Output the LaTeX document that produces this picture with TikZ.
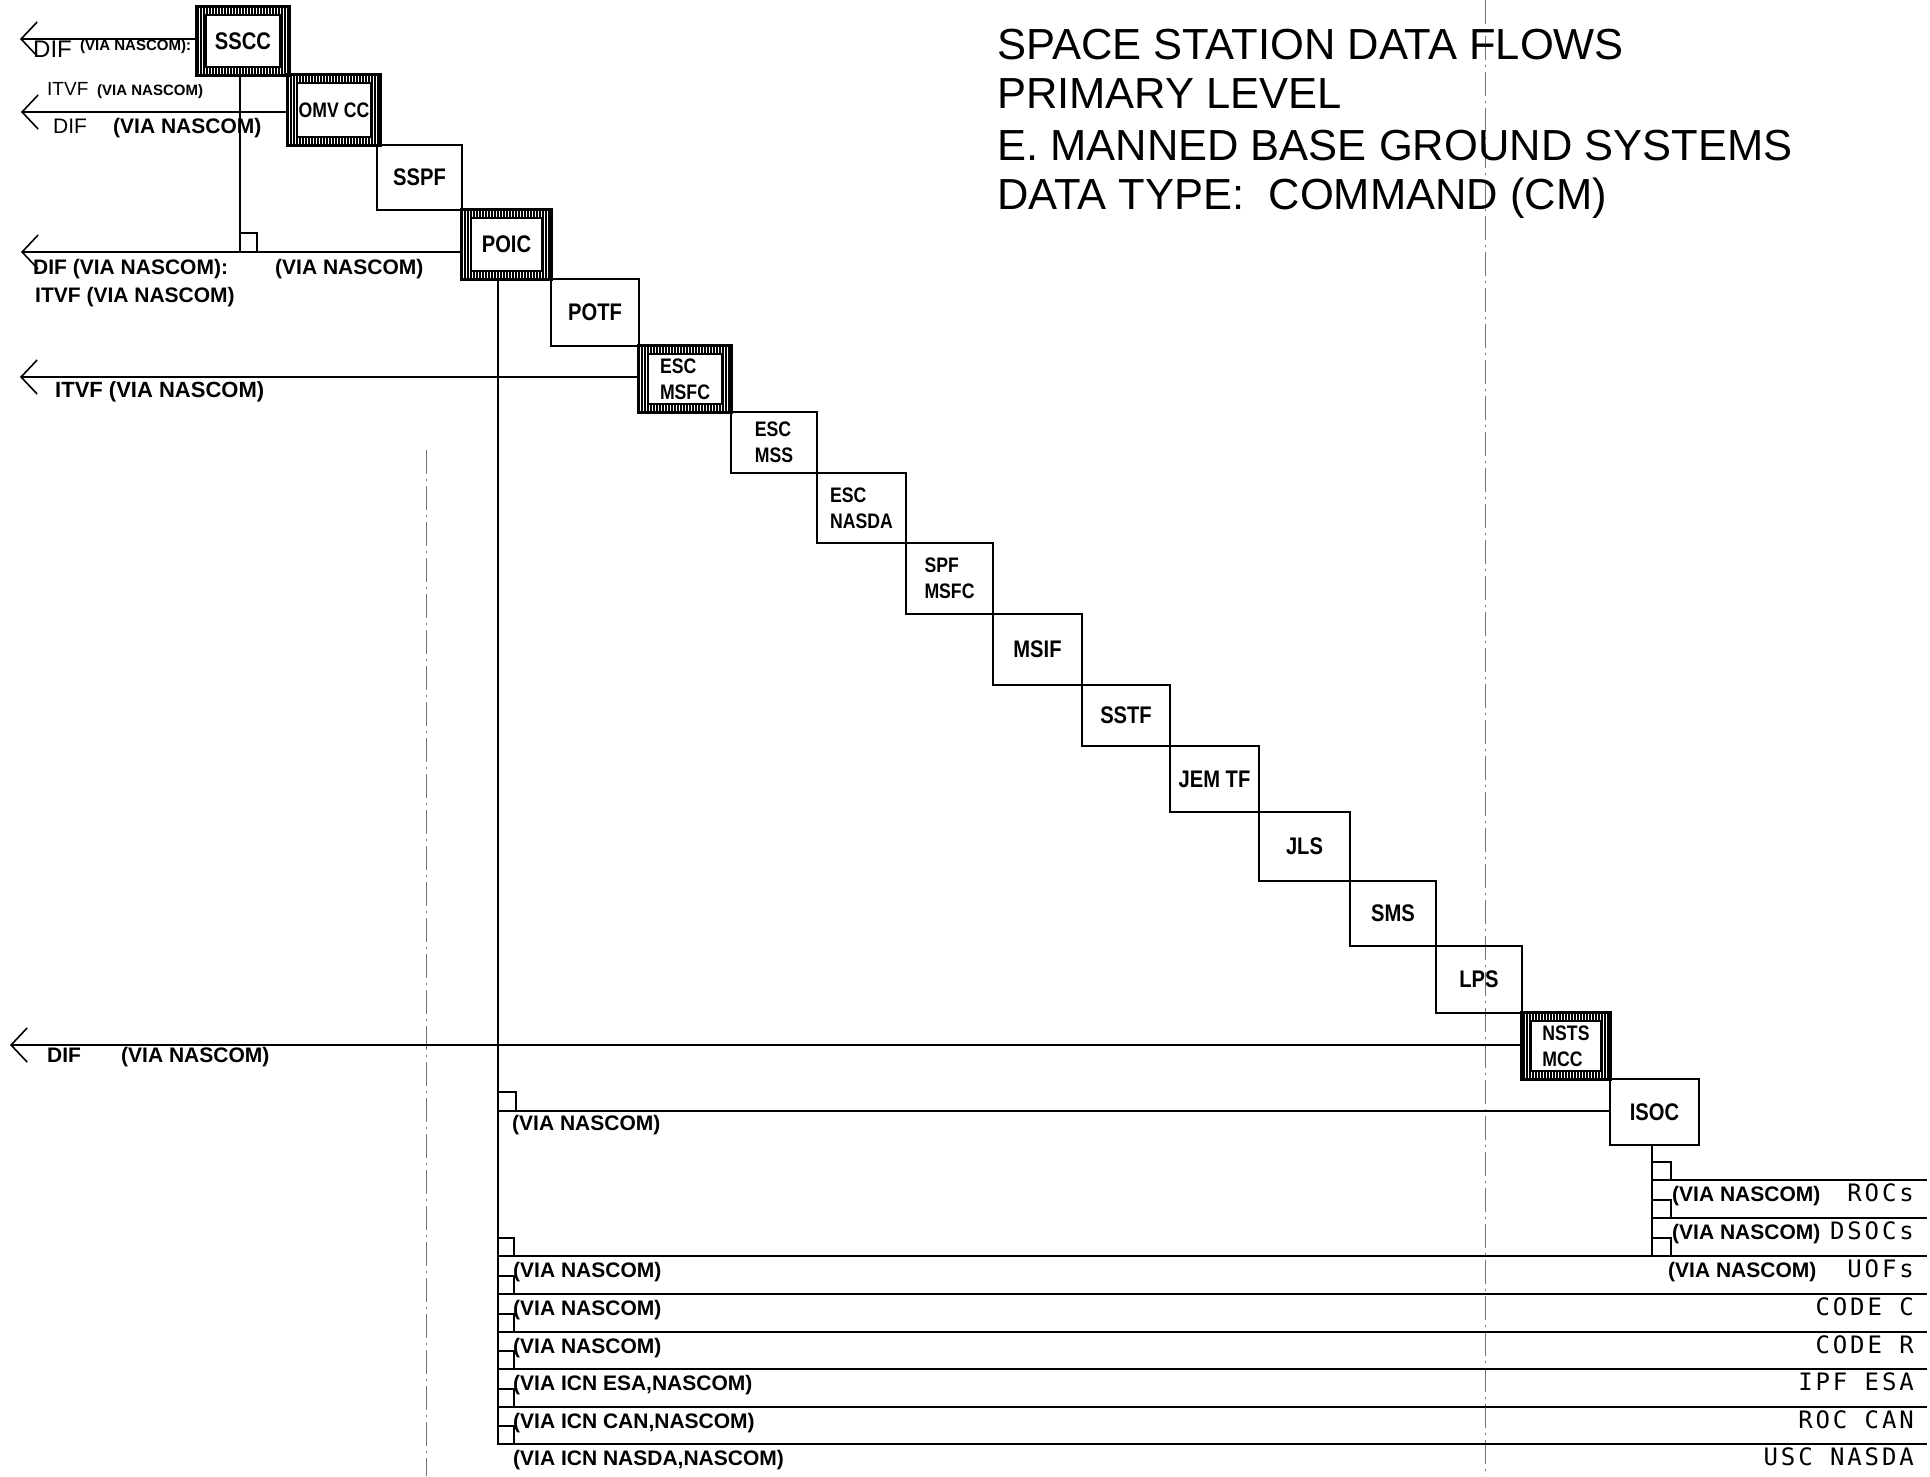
\documentclass[tikz,border=0pt]{standalone}
\usepackage{fontspec}
\setmainfont{Liberation Sans}
\newfontfamily\bxf[FakeStretch=0.84]{Liberation Sans Bold}
\newfontfamily\plf[LetterSpace=12]{DejaVu Sans Mono}
\usetikzlibrary{arrows.meta,patterns.meta}

\newcommand{\vbf}[1]{\bfseries\fontsize{#1}{#1}\selectfont}
\newcommand{\rgf}[1]{\fontsize{#1}{#1}\selectfont}
\newcommand{\plff}{\plf\fontsize{24}{24}\selectfont}

\newcommand{\SBox}[7][]{%
  \node[box,#1,minimum width={(#5-#3)*1pt},minimum height={(#6-#4)*1pt}]
    (#2) at ({(#3+#5)/2},{(#4+#6)/2}) {#7};}

\newcommand{\Hatch}[1]{%
  \fill[pattern={Lines[angle=90,distance=3pt,line width=1.4pt]},even odd rule]
    (#1.north west) rectangle (#1.south east)
    ([shift={(10pt,-9pt)}]#1.north west) rectangle ([shift={(-10pt,9pt)}]#1.south east);
  \draw[line width=1.5pt] ([shift={(10pt,-9pt)}]#1.north west) rectangle ([shift={(-10pt,9pt)}]#1.south east);
  \draw[line width=2.6pt] (#1.north west) rectangle (#1.south east);}

\begin{document}
\begin{tikzpicture}[x=1pt,y=-1pt,
  ln/.style={line width=2pt},
  sq/.style={line width=1.6pt},
  arr/.style={line width=2pt,-{Straight Barb[length=16pt,width=34pt,line width=1.6pt]}},
  box/.style={draw,line width=2pt,inner sep=0pt,align=center,font=\bxf\fontsize{24}{27}\selectfont},
  two/.style={align=left,font=\bxf\fontsize{21}{26}\selectfont},
  dd/.style={line width=0.9pt,black!55,dash pattern=on 24pt off 5pt on 2pt off 5pt},
  lab/.style={anchor=base west,inner sep=0pt},
  rlab/.style={anchor=base east,inner sep=0pt}]
\useasboundingbox (0,0) rectangle (1930,1476);

% page marks
\coordinate (m1) at (426,450); \coordinate (m2) at (426,1476);
\coordinate (m3) at (1485,0);  \coordinate (m4) at (1485,1476);
\draw[dd] (m1) -- (m2);
\draw[dd] (m3) -- (m4);

% title
\node[lab,font=\rgf{43.5}] (t1) at (997,59)  {SPACE STATION DATA FLOWS};
\node[lab,font=\rgf{43.5}] (t2) at (997,108) {PRIMARY LEVEL};
\node[lab,font=\rgf{43.5}] (t3) at (997,160) {E. MANNED BASE GROUND SYSTEMS};
\node[lab,font=\rgf{43.5}] (t4) at (997,209) {DATA TYPE:\ \ COMMAND (CM)};

% boxes
\SBox{sscc}{197}{7}{289}{75}{SSCC}
\SBox[font=\bxf\fontsize{21}{24}\selectfont]{omv}{288}{75}{380}{145}{OMV CC}
\SBox{sspf}{377}{145}{462}{210}{SSPF}
\SBox{poic}{462}{210}{551}{279}{POIC}
\SBox{potf}{551}{279}{639}{346}{POTF}
\SBox[two]{escm}{639}{346}{731}{412}{ESC\\MSFC}
\SBox[two]{escs}{731}{412}{817}{473}{ESC\\MSS}
\SBox[two]{escn}{817}{473}{906}{543}{ESC\\NASDA}
\SBox[two]{spf}{906}{543}{993}{614}{SPF\\MSFC}
\SBox{msif}{993}{614}{1082}{685}{MSIF}
\SBox{sstf}{1082}{685}{1170}{746}{SSTF}
\SBox{jem}{1170}{746}{1259}{812}{JEM TF}
\SBox{jls}{1259}{812}{1350}{881}{JLS}
\SBox{sms}{1350}{881}{1436}{946}{SMS}
\SBox{lps}{1436}{946}{1522}{1013}{LPS}
\SBox[two]{nsts}{1522}{1013}{1610}{1079}{NSTS\\MCC}
\SBox{isoc}{1610}{1079}{1699}{1145}{ISOC}

\Hatch{sscc}
\Hatch{omv}
\Hatch{poic}
\Hatch{escm}
\Hatch{nsts}

% connectors to the left
\coordinate (a1) at (20,39);
\draw[arr] (a1 -| sscc.west) -- (a1);
\coordinate (a2) at (21,112);
\draw[arr] (a2 -| omv.west) -- (a2);
\coordinate (j1) at (240,252);
\draw[ln] (j1 |- sscc.south) -- (j1);
\draw[sq] (240,233) rectangle (257,252);
\coordinate (a3) at (21,252);
\draw[arr] (a3 -| poic.west) -- (a3);
\coordinate (a4) at (20,377);
\draw[arr] (a4 -| escm.west) -- (a4);
\coordinate (a5) at (10,1045);
\draw[arr] (a5 -| nsts.west) -- (a5);

% POIC trunk
\coordinate (vb) at (498,1444);
\draw[ln] (vb |- poic.south) -- (vb);
\coordinate (j2) at (498,1111);
\draw[ln] (j2) -- (j2 -| isoc.west);
\draw[sq] (498,1092) rectangle (516,1111);

% ISOC trunk
\coordinate (j3) at (1652,1256);
\draw[ln] (j3 |- isoc.south) -- (j3);
\draw[sq] (1652,1162) rectangle (1671,1180);
\draw[sq] (1652,1200) rectangle (1671,1218);
\draw[sq] (1652,1238) rectangle (1671,1256);
\coordinate (s1) at (1671,1180); \coordinate (e1) at (1927,1180);
\coordinate (s2) at (1671,1218); \coordinate (e2) at (1927,1218);
\draw[ln] (s1) -- (e1);
\draw[ln] (s2) -- (e2);

% bottom bus lines
\foreach \i/\y in {1/1256,2/1294,3/1332,4/1369,5/1407,6/1444}{
  \coordinate (L\i) at (498,\y);
  \coordinate (R\i) at (1927,\y);
  \draw[ln] (L\i) -- (R\i);
  \draw[sq] (498,\y-18) rectangle (514,\y);
}

% labels, top-left
\node[lab,font=\rgf{24}] (d1) at (33,57) {DIF};
\node[lab,font=\vbf{15}] (d1v) at (80,50) {(VIA NASCOM):};
\node[lab,font=\rgf{19}] (d2) at (47,95) {ITVF};
\node[lab,font=\vbf{15}] (d2v) at (97,95) {(VIA NASCOM)};
\node[lab,font=\rgf{21}] (d3) at (53,133) {DIF};
\node[lab,font=\vbf{21}] (d3v) at (113,133) {(VIA NASCOM)};
\node[lab,font=\vbf{21}] (d4) at (33,274) {DIF (VIA NASCOM):};
\node[lab,font=\vbf{21}] (d4b) at (275,274) {(VIA NASCOM)};
\node[lab,font=\vbf{21}] (d5) at (35,302) {ITVF (VIA NASCOM)};
\node[lab,font=\vbf{22}] (d6) at (55,397) {ITVF (VIA NASCOM)};
\node[lab,font=\vbf{21}] (d7) at (47,1062) {DIF};
\node[lab,font=\vbf{21}] (d7v) at (121,1062) {(VIA NASCOM)};
\node[lab,font=\vbf{21}] (d8) at (512,1130) {(VIA NASCOM)};

% labels, bottom-left
\node[lab,font=\vbf{21}] (b1) at (513,1277) {(VIA NASCOM)};
\node[lab,font=\vbf{21}] (b2) at (513,1315) {(VIA NASCOM)};
\node[lab,font=\vbf{21}] (b3) at (513,1353) {(VIA NASCOM)};
\node[lab,font=\vbf{21}] (b4) at (513,1390) {(VIA ICN ESA,NASCOM)};
\node[lab,font=\vbf{21}] (b5) at (513,1428) {(VIA ICN CAN,NASCOM)};
\node[lab,font=\vbf{21}] (b6) at (513,1465) {(VIA ICN NASDA,NASCOM)};

% labels, right
\node[lab,font=\vbf{21}] (r1v) at (1672,1201) {(VIA NASCOM)};
\node[rlab,font=\plff] (r1) at (1914,1201) {ROCs};
\node[lab,font=\vbf{21}] (r2v) at (1672,1239) {(VIA NASCOM)};
\node[rlab,font=\plff] (r2) at (1914,1239) {DSOCs};
\node[lab,font=\vbf{21}] (r3v) at (1668,1277) {(VIA NASCOM)};
\node[rlab,font=\plff] (r3) at (1914,1277) {UOFs};
\node[rlab,font=\plff] (r4) at (1914,1315) {CODE C};
\node[rlab,font=\plff] (r5) at (1914,1353) {CODE R};
\node[rlab,font=\plff] (r6) at (1914,1390) {IPF ESA};
\node[rlab,font=\plff] (r7) at (1914,1428) {ROC CAN};
\node[rlab,font=\plff] (r8) at (1914,1465) {USC NASDA};
\end{tikzpicture}
\end{document}
